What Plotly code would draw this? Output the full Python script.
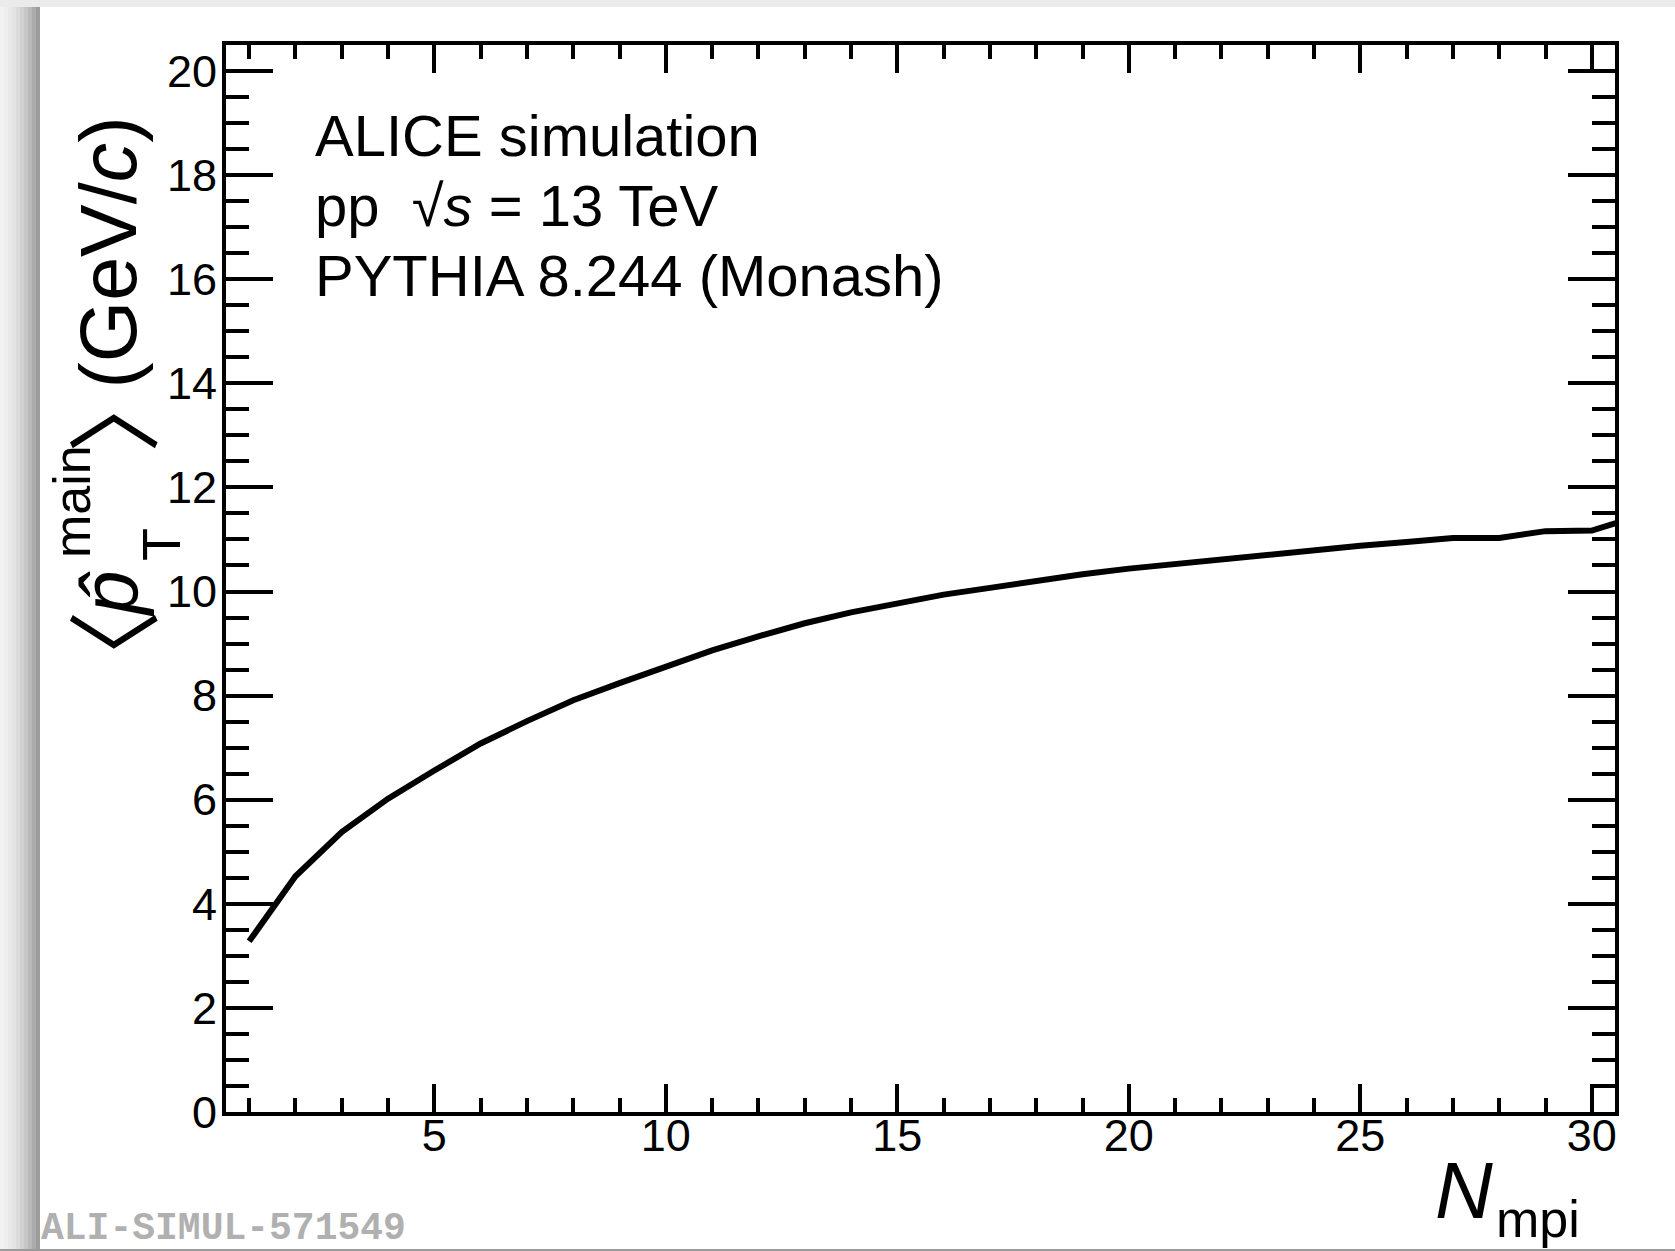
import plotly.graph_objects as go

# ---------------- data ----------------
n_mpi = list(range(1, 32))
mean_pt_hat_main = [3.28, 4.53, 5.38, 6.02, 6.56, 7.08, 7.51, 7.91, 8.24, 8.56,
                    8.87, 9.14, 9.39, 9.60, 9.78, 9.94, 10.07, 10.21, 10.33, 10.44,
                    10.53, 10.63, 10.72, 10.79, 10.88, 10.95, 11.03, 11.03, 11.16, 11.17,
                    11.45]
x_range = [0.5, 30.5]
y_range = [0, 20.5]
info_lines = ["ALICE simulation",
              "pp\u00a0\u00a0√<i>s</i> = 13 TeV",
              "PYTHIA 8.244 (Monash)"]
watermark = "ALI-SIMUL-571549"

# ---------------- layout geometry ----------------
W, H = 1675, 1251
L, R, T, B = 226, 60, 45, 139
pw, ph = W - L - R, H - T - B


def px(x):
    return (x - L) / pw


def py(y):
    return (H - B - y) / ph


FONT = "Liberation Sans, Arial, Helvetica, sans-serif"
CJK = "Noto Sans CJK JP, Noto Sans CJK SC, sans-serif"

fig = go.Figure()
fig.add_trace(go.Scatter(x=n_mpi, y=mean_pt_hat_main, mode="lines",
                         line=dict(color="black", width=6), showlegend=False,
                         hoverinfo="skip"))

axis_common = dict(showline=True, linewidth=4, linecolor="black", mirror="allticks",
                   ticks="inside", tickwidth=4, tickcolor="black", showgrid=False,
                   zeroline=False,
                   tickfont=dict(family=FONT, size=45, color="black"))

fig.update_xaxes(range=x_range, tick0=0, dtick=5, ticklen=28, ticklabelstandoff=-19,
                 minor=dict(dtick=1, tick0=0, ticklen=14, tickwidth=4, tickcolor="black",
                            ticks="inside", showgrid=False),
                 **axis_common)
fig.update_yaxes(range=y_range, tick0=0, dtick=2, ticklen=47, ticklabelstandoff=-4,
                 minor=dict(dtick=0.5, tick0=0, ticklen=23, tickwidth=4, tickcolor="black",
                            ticks="inside", showgrid=False),
                 **axis_common)

annotations = []
# info text
baselines = [156, 226, 296]
for txt, bl in zip(info_lines, baselines):
    annotations.append(dict(text=txt, x=px(313), y=py(bl - 0.3465 * 58), xref="paper",
                            yref="paper", xanchor="left", yanchor="middle", showarrow=False,
                            font=dict(family=FONT, size=58, color="black")))

# y-axis title pieces (rotated)
yt = [
    ("〈", CJK, 94, 109, 657),
    ("<i>p̂</i>", FONT, 79, 108.6, 594),
    ("main", FONT, 52, 72, 502),
    ("T", FONT, 54, 161, 545),
    ("〉", CJK, 94, 109, 406),
    ("(GeV/<i>c</i>)", FONT, 79, 108.6, 253),
]
for txt, fam, fs, cx, cy in yt:
    annotations.append(dict(text=txt, x=px(cx), y=py(cy), xref="paper", yref="paper",
                            xanchor="center", yanchor="middle", textangle=-90,
                            showarrow=False, font=dict(family=fam, size=fs, color="black")))

# x-axis title pieces
annotations.append(dict(text="<i>N</i>", x=px(1464), y=py(1190), xref="paper", yref="paper",
                        xanchor="center", yanchor="middle", showarrow=False,
                        font=dict(family=FONT, size=80, color="black")))
annotations.append(dict(text="mpi", x=px(1538), y=py(1219), xref="paper", yref="paper",
                        xanchor="center", yanchor="middle", showarrow=False,
                        font=dict(family=FONT, size=52, color="black")))

# watermark
annotations.append(dict(text="<b>" + watermark + "</b>", x=px(40), y=py(1251), xref="paper",
                        yref="paper", xanchor="left", yanchor="bottom", showarrow=False,
                        borderpad=0,
                        font=dict(family="Liberation Mono, Courier New, monospace", size=38,
                                  color="#b0b0b0")))

# page decorations (background frame of the original screenshot)
shapes = []
shapes.append(dict(type="rect", xref="paper", yref="paper", x0=px(0), x1=px(W), y0=py(0),
                   y1=py(7), fillcolor="#ebebeb", line=dict(width=0), layer="below"))
shade = ["#f2f2f2", "#eeeeee", "#e9e9e9", "#e3e3e3", "#dbdbdb", "#d1d1d1", "#c6c6c6",
         "#b9b9b9", "#ababab", "#9c9c9c"]
for i, c in enumerate(shade):
    shapes.append(dict(type="rect", xref="paper", yref="paper", x0=px(i * 4), x1=px(i * 4 + 4),
                       y0=py(7), y1=py(H), fillcolor=c, line=dict(width=0), layer="below"))
shapes.append(dict(type="rect", xref="paper", yref="paper", x0=px(0), x1=px(W), y0=py(1249),
                   y1=py(1251), fillcolor="#9a9a9a", line=dict(width=0), layer="below"))

fig.update_layout(width=W, height=H, margin=dict(l=L, r=R, t=T, b=B, autoexpand=False),
                  paper_bgcolor="white", plot_bgcolor="white",
                  annotations=annotations, shapes=shapes, showlegend=False)

fig.write_html("out.html")
